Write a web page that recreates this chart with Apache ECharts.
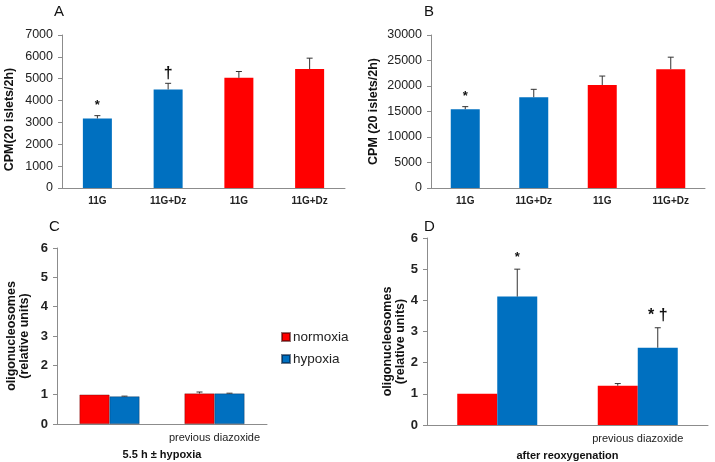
<!DOCTYPE html>
<html>
<head>
<meta charset="utf-8">
<script src="https://cdn.jsdelivr.net/npm/echarts@6/dist/echarts.min.js"></script>
<style>
  html, body { margin: 0; padding: 0; background: #fff; }
  #chart { width: 715px; height: 462px; }
</style>
</head>
<body>
<div id="chart"></div>
<script>
// ---------- data ----------
const abCategories = ['11G', '11G+Dz', '11G', '11G+Dz'];

const aValues = [3180, 4510, 5040, 5440];
const aErrors = [130, 280, 290, 500];
const aMarks  = ['*', '\u2020', '', ''];
const aTicks  = [0, 7000, 1000];   // min, max, interval

const bValues = [15450, 17800, 20200, 23300];
const bErrors = [500, 1550, 1750, 2350];
const bMarks  = ['*', '', '', ''];
const bTicks  = [0, 30000, 5000];

const cdCategories = ['', 'previous diazoxide'];
const seriesNames = ['normoxia', 'hypoxia'];

const cNormoxia    = [1.00, 1.04];
const cNormoxiaErr = [0, 0.05];
const cHypoxia     = [0.94, 1.04];
const cHypoxiaErr  = [0.01, 0.01];

const dNormoxia    = [1.00, 1.26];
const dNormoxiaErr = [0, 0.07];
const dHypoxia     = [4.12, 2.48];
const dHypoxiaErr  = [0.88, 0.64];
const dHypoxiaMarks = ['*', '* \u2020'];

const cdTicks = [0, 6, 1];

// ---------- styles ----------
const BLUE = '#0070C0';
const RED = '#FF0000';
const abColors = [BLUE, BLUE, RED, RED];
const FONT = 'Liberation Sans, Arial, sans-serif';
const AXIS = '#8c8c8c';

function errorSeries(gridIdx, values, errors, marks, offset, markGap) {
  return {
    type: 'custom',
    xAxisIndex: gridIdx,
    yAxisIndex: gridIdx,
    z: 10,
    silent: true,
    data: values.map((v, i) => [i, v, errors[i]]),
    renderItem: function (params, api) {
      const i = api.value(0), v = api.value(1), e = api.value(2);
      const base = api.coord([i, v]);
      const top = api.coord([i, v + e]);
      const x = base[0] + offset;
      const children = [];
      if (e > 0) {
        children.push({ type: 'line', shape: { x1: x, y1: base[1], x2: x, y2: top[1] },
          style: { stroke: '#333', lineWidth: 1 } });
        children.push({ type: 'line', shape: { x1: x - 3, y1: top[1], x2: x + 3, y2: top[1] },
          style: { stroke: '#333', lineWidth: 1 } });
      }
      const m = marks ? marks[params.dataIndex] : '';
      if (m) {
        const isDagger = m.indexOf('\u2020') >= 0;
        children.push({ type: 'text', style: {
          text: m, x: x, y: top[1] - markGap,
          align: 'center', verticalAlign: 'middle',
          font: (isDagger ? 'bold 16px ' : 'bold 13px ') + FONT, fill: '#111' } });
      }
      return { type: 'group', children: children };
    }
  };
}

function valAxis(gridIdx, ticks, name, bold, nameGap, shift, fontSize) {
  return {
    type: 'value', gridIndex: gridIdx,
    min: ticks[0], max: ticks[1], interval: ticks[2],
    axisLine: { show: true, lineStyle: { color: AXIS } },
    axisTick: { show: true, length: 4, lineStyle: { color: AXIS } },
    splitLine: { show: false },
    axisLabel: { color: '#222', fontFamily: FONT, fontSize: fontSize, fontWeight: bold ? 'bold' : 'normal', margin: 9,
      formatter: function (v) { return String(v); } },
    name: name, nameLocation: 'middle', nameRotate: 90, nameGap: nameGap,
    nameTextStyle: { color: '#111', fontFamily: FONT, fontSize: 12.5, fontWeight: 'bold',
      lineHeight: 13, align: 'center', padding: shift }
  };
}

function catAxis(gridIdx, cats, labelStyle, name) {
  return {
    type: 'category', gridIndex: gridIdx, data: cats,
    axisLine: { show: true, lineStyle: { color: AXIS } },
    axisTick: { show: false },
    axisLabel: Object.assign({ color: '#222', fontFamily: FONT, margin: 8, interval: 0 }, labelStyle),
    name: name || '', nameLocation: 'middle', nameGap: 25,
    nameTextStyle: { color: '#111', fontFamily: FONT, fontSize: 11, fontWeight: 'bold' }
  };
}

const letterStyle = { fontFamily: FONT, fontSize: 15, fontWeight: 'normal', color: '#111' };

const option = {
  backgroundColor: '#fff',
  animation: false,
  title: [
    { text: 'A', left: 49, top: -1, textStyle: letterStyle },
    { text: 'B', left: 419, top: -1, textStyle: letterStyle },
    { text: 'C', left: 44, top: 214, textStyle: letterStyle },
    { text: 'D', left: 419, top: 214, textStyle: letterStyle }
  ],
  legend: {
    data: seriesNames, orient: 'vertical', left: 276, top: 325,
    itemWidth: 8, itemHeight: 8, itemGap: 8, icon: 'rect',
    textStyle: { fontFamily: FONT, fontSize: 13.5, color: '#222', padding: [0, 0, 0, -2] }
  },
  grid: [
    { left: 62, top: 35, width: 283, height: 153 },
    { left: 431, top: 35, width: 274, height: 153 },
    { left: 57, top: 248, width: 210, height: 176 },
    { left: 427, top: 238, width: 281, height: 188 }
  ],
  xAxis: [
    catAxis(0, abCategories, { fontSize: 10, fontWeight: 'bold' }),
    catAxis(1, abCategories, { fontSize: 10, fontWeight: 'bold' }),
    catAxis(2, cdCategories, { fontSize: 11 }, '5.5 h \u00b1 hypoxia'),
    catAxis(3, cdCategories, { fontSize: 11 }, 'after reoxygenation')
  ],
  yAxis: [
    valAxis(0, aTicks, 'CPM(20 islets/2h)', false, 46, [0, 16, 0, 0], 12.5),
    valAxis(1, bTicks, 'CPM (20 islets/2h)', false, 51, [0, 0, 0, 0], 12.5),
    valAxis(2, cdTicks, 'oligonucleosomes\n(relative units)', true, 26, [0, 0, 0, 0], 13),
    valAxis(3, cdTicks, 'oligonucleosomes\n(relative units)', true, 20, [0, 20, 0, 0], 13)
  ],
  series: [
    { type: 'bar', xAxisIndex: 0, yAxisIndex: 0, barWidth: 29,
      data: aValues.map((v, i) => ({ value: v, itemStyle: { color: abColors[i] } })) },
    errorSeries(0, aValues, aErrors, aMarks, 0, 10),
    { type: 'bar', xAxisIndex: 1, yAxisIndex: 1, barWidth: 29,
      data: bValues.map((v, i) => ({ value: v, itemStyle: { color: abColors[i] } })) },
    errorSeries(1, bValues, bErrors, bMarks, 0, 10),

    { name: seriesNames[0], type: 'bar', xAxisIndex: 2, yAxisIndex: 2, barWidth: 30, barGap: '0%',
      itemStyle: { color: RED, borderColor: 'rgba(60,0,0,0.55)', borderWidth: 0.6 }, data: cNormoxia },
    { name: seriesNames[1], type: 'bar', xAxisIndex: 2, yAxisIndex: 2, barWidth: 30, barGap: '0%',
      itemStyle: { color: BLUE, borderColor: 'rgba(0,20,50,0.55)', borderWidth: 0.6 }, data: cHypoxia },
    errorSeries(2, cNormoxia, cNormoxiaErr, null, -15, 10),
    errorSeries(2, cHypoxia, cHypoxiaErr, null, 15, 10),

    { name: seriesNames[0], type: 'bar', xAxisIndex: 3, yAxisIndex: 3, barWidth: 40, barGap: '0%',
      itemStyle: { color: RED }, data: dNormoxia },
    { name: seriesNames[1], type: 'bar', xAxisIndex: 3, yAxisIndex: 3, barWidth: 40, barGap: '0%',
      itemStyle: { color: BLUE }, data: dHypoxia },
    errorSeries(3, dNormoxia, dNormoxiaErr, null, -20, 12),
    errorSeries(3, dHypoxia, dHypoxiaErr, dHypoxiaMarks, 20, 12)
  ]
};

const chart = echarts.init(document.getElementById('chart'), null, { renderer: 'canvas' });
chart.setOption(option);
</script>
</body>
</html>
